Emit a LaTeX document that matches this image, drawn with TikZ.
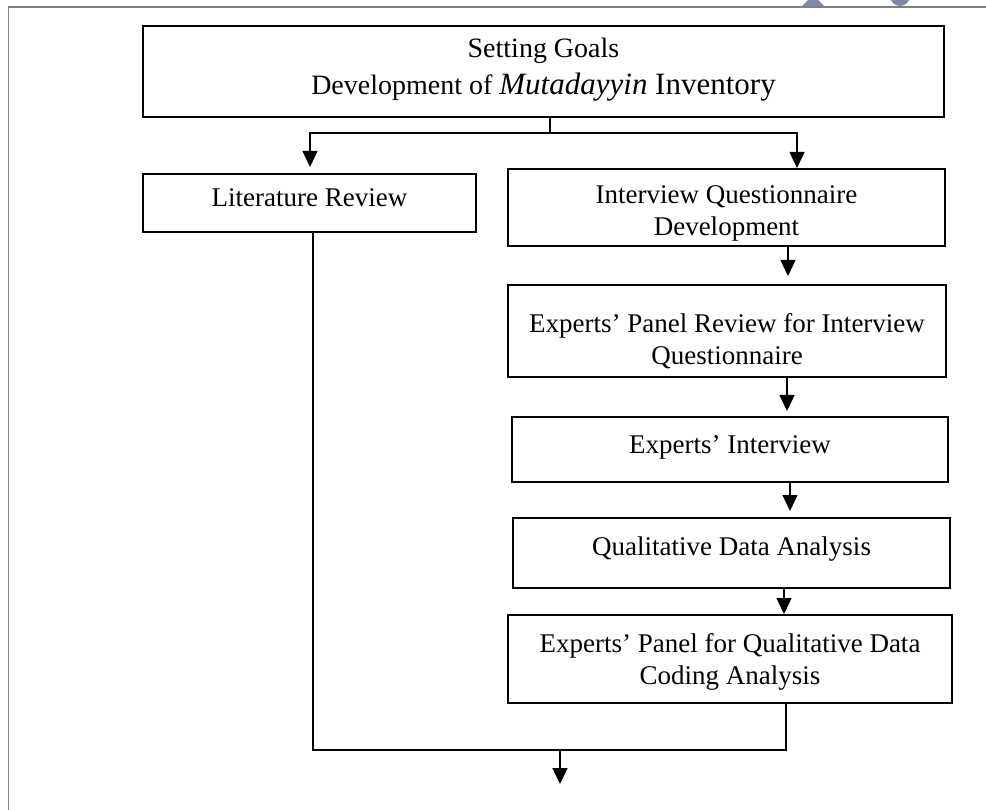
\documentclass[tikz,border=0pt]{standalone}
\usepackage{fontspec}
\setmainfont{Liberation Serif}
\usetikzlibrary{arrows.meta}
\definecolor{framegray}{RGB}{128,128,128}
\definecolor{markblue}{RGB}{125,140,165}
% centred lines of box text, moved up (+) or down (-) inside the box
\newcommand\lbltext[2]{\raisebox{#1}[\height][\depth]{\begin{tabular}{@{}c@{}}#2\end{tabular}}}
\begin{document}
\begin{tikzpicture}[x=1pt,y=-1pt,
  box/.style={draw=black, line width=2pt, fill=white, inner sep=0pt,
              font=\fontsize{27}{32}\selectfont},
  link/.style={draw=black, line width=1.4pt},
  flow/.style={link, -{Triangle[length=16pt,width=15pt]}},
  pageframe/.style={draw=framegray, line width=1.6pt}]
\useasboundingbox (0,0) rectangle (986,810);

% page frame and the logo fragments above it
\begin{scope}
  \clip (0,0) rectangle (986,810);
  \fill[markblue] (802,6) -- (813,-5) -- (824,6) -- cycle;
  \fill[markblue] (900,-4) circle (10);
\end{scope}
\draw[pageframe] (986,7.3) -- (8.5,7.3) -- (8.5,810);

% process boxes
\node[box, minimum width=801pt, minimum height=91pt] (goal) at (543.5,71.5)
  {\fontsize{28}{33}\selectfont\lbltext{2pt}{Setting Goals\\[4pt]Development of \fontsize{31}{36}\selectfont\textit{Mutadayyin} Inventory}};
\node[box, minimum width=333pt, minimum height=58pt] (lit) at (309.5,203)
  {\lbltext{3pt}{Literature Review}};
\node[box, minimum width=437pt, minimum height=77pt] (iqd) at (726.5,207.5)
  {\lbltext{-6pt}{Interview Questionnaire\\Development}};
\node[box, minimum width=438pt, minimum height=92pt] (epr) at (727,331)
  {\lbltext{-11pt}{Experts’ Panel Review for Interview\\Questionnaire}};
\node[box, minimum width=436pt, minimum height=65pt] (ei) at (730,449.5)
  {\lbltext{2pt}{Experts’ Interview}};
\node[box, minimum width=437pt, minimum height=70pt] (qda) at (731.5,553)
  {\lbltext{4pt}{Qualitative Data Analysis}};
\node[box, minimum width=444pt, minimum height=88pt] (epq) at (730,659)
  {\lbltext{-3pt}{Experts’ Panel for Qualitative Data\\Coding Analysis}};

% branching from the goal
\coordinate (split) at (550,133);
\coordinate (litin) at (310,167);
\coordinate (iqdin) at (797,168);
\draw[link] (goal.south -| split) -- (split);
\draw[flow] (split) -| (litin);
\draw[flow] (split) -| (iqdin);

% the interview chain
\coordinate (c1) at (788,0);
\coordinate (c2) at (787,0);
\coordinate (c3) at (790,0);
\coordinate (c4) at (784,0);
\draw[flow, shorten >=8pt] (iqd.south -| c1) -- (epr.north -| c1);
\draw[flow, shorten >=5pt] (epr.south -| c2) -- (ei.north -| c2);
\draw[flow, shorten >=6pt] (ei.south -| c3) -- (qda.north -| c3);
\draw[flow] (qda.south -| c4) -- (epq.north -| c4);

% merging both branches
\coordinate (lx) at (313,0);
\coordinate (ex) at (786,0);
\coordinate (join) at (560,750);
\coordinate (out) at (560,784);
\draw[link] (lit.south -| lx) |- (join) -| (epq.south -| ex);
\draw[flow] (join) -- (out);
\end{tikzpicture}
\end{document}
